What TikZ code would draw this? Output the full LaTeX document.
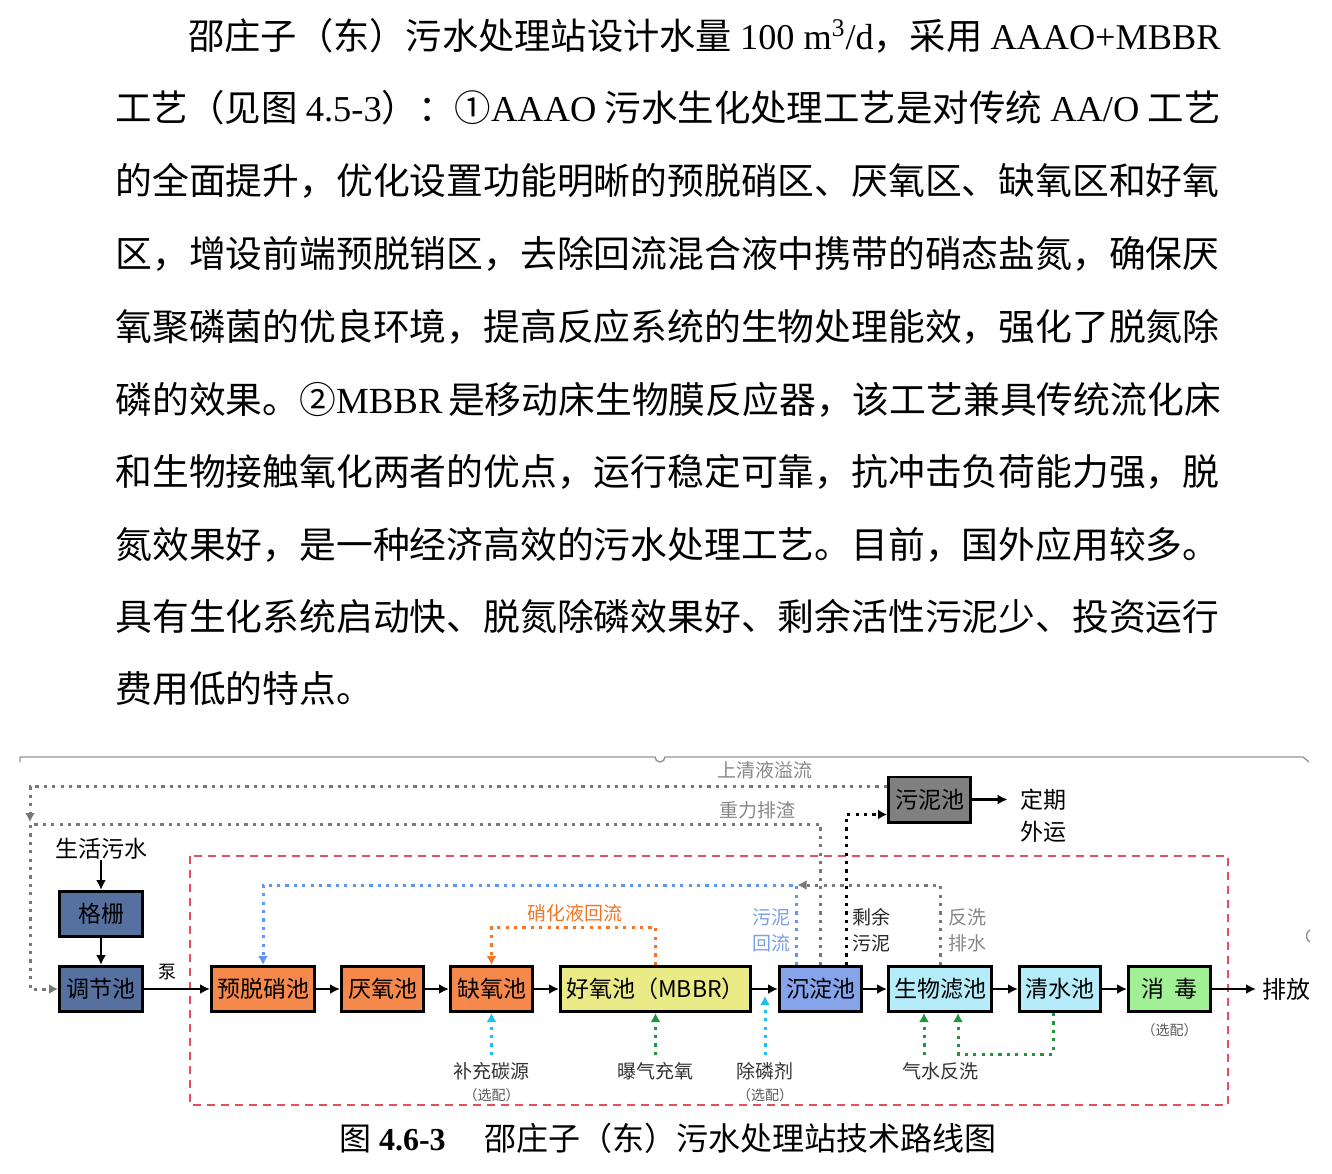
\documentclass[tikz,border=0pt]{standalone}
\usepackage{fontspec}
\usepackage{graphicx}
\setmainfont{Noto Sans CJK SC}
\newfontfamily\lat{Liberation Serif}
\usetikzlibrary{positioning,arrows.meta,calc}

\definecolor{tankblue}{RGB}{86,112,160}
\definecolor{tankorange}{RGB}{244,137,75}
\definecolor{tankyellow}{RGB}{234,234,134}
\definecolor{tankslate}{RGB}{134,164,234}
\definecolor{tankcyan}{RGB}{180,236,250}
\definecolor{tankgreen}{RGB}{162,240,150}
\definecolor{tankgray}{RGB}{128,128,128}
\definecolor{flowred}{RGB}{226,80,96}
\definecolor{flowblue}{RGB}{96,150,240}
\definecolor{floworange}{RGB}{240,118,40}
\definecolor{flowcyan}{RGB}{30,190,240}
\definecolor{flowgreen}{RGB}{30,150,60}
\definecolor{flowgray}{RGB}{120,120,120}
\definecolor{labelgray}{RGB}{135,135,135}
\definecolor{labelblue}{RGB}{120,160,230}
\definecolor{framegray}{RGB}{150,150,150}

\newcommand{\jline}[1]{\makebox[552.5pt][s]{#1}}

\tikzset{
  tank/.style={draw, line width=1.3pt, minimum height=22.7pt, inner sep=1pt,
    font=\fontsize{11.5}{12}\selectfont},
  flow/.style={->, line width=1.25pt},
  dotflow/.style={-{Latex[length=4.5pt,width=5pt]}, line width=1.5pt, dash pattern=on 1.6pt off 2.6pt},
  lbl/.style={inner sep=0pt, align=center, font=\fontsize{9.5}{13}\selectfont},
  opt/.style={inner sep=0pt, text=black!65, font=\fontsize{7}{8}\selectfont},
  bodyline/.style={anchor=base west, inner sep=0pt, font=\fontsize{18.4}{20}\selectfont}
}

\begin{document}
\begin{tikzpicture}[x=0.5pt, y=-0.5pt, >={Latex[length=5pt,width=5pt]}]
\useasboundingbox[fill=white] (0,0) rectangle (1332,1173);

% Text
\node[bodyline] (l1) at (188,49) {\resizebox{516pt}{!}{邵庄子（东）污水处理站设计水量 {\lat 100 m\textsuperscript{3}/d}，采用 {\lat AAAO+MBBR}}};
\node[bodyline] (l2) at (115,121) {\resizebox{552.5pt}{!}{工艺（见图 {\lat 4.5-3}）：①{\lat AAAO} 污水生化处理工艺是对传统 {\lat AA/O} 工艺}};
\node[bodyline] (l3) at (115,194) {\jline{的全面提升，优化设置功能明晰的预脱硝区、厌氧区、缺氧区和好氧}};
\node[bodyline] (l4) at (115,267) {\jline{区，增设前端预脱销区，去除回流混合液中携带的硝态盐氮，确保厌}};
\node[bodyline] (l5) at (115,340) {\jline{氧聚磷菌的优良环境，提高反应系统的生物处理能效，强化了脱氮除}};
\node[bodyline] (l6) at (115,413) {\jline{磷的效果。②{\lat MBBR} 是移动床生物膜反应器，该工艺兼具传统流化床}};
\node[bodyline] (l7) at (115,485) {\jline{和生物接触氧化两者的优点，运行稳定可靠，抗冲击负荷能力强，脱}};
\node[bodyline] (l8) at (115,558) {\jline{氮效果好，是一种经济高效的污水处理工艺。目前，国外应用较多。}};
\node[bodyline] (l9) at (115,630) {\jline{具有生化系统启动快、脱氮除磷效果好、剩余活性污泥少、投资运行}};
\node[bodyline] (l10) at (115,702) {费用低的特点。};

% Frame
\draw[framegray, line width=0.7pt] (20,762) -- (20,757) -- (655,757) arc[start angle=180, end angle=0, radius=5] -- (1303,757) -- (1309,762);
\draw[framegray, line width=0.7pt] (1310,942) arc[start angle=120, end angle=240, radius=7];
\draw[flowred, line width=1.2pt, dash pattern=on 4pt off 3pt] (190,856) rectangle (1228,1105);

% Nodes
\node[tank, fill=tankblue, minimum width=41.7pt] (tiaojie) at (101,989) {调节池};
\node[tank, fill=tankblue, minimum width=41.7pt, above=13.5pt of tiaojie] (gezha) {格栅};
\node[inner sep=0pt, font=\fontsize{11.5}{12}\selectfont, above=15pt of gezha] (source) {生活污水};
\node[tank, fill=tankorange, minimum width=51.7pt, right=33pt of tiaojie] (yutuo) {预脱硝池};
\node[tank, fill=tankorange, minimum width=41.2pt, right=12pt of yutuo] (yanyang) {厌氧池};
\node[tank, fill=tankorange, minimum width=41.2pt, right=12pt of yanyang] (queyang) {缺氧池};
\node[tank, fill=tankyellow, minimum width=95.2pt, right=12.5pt of queyang] (haoyang) {好氧池（MBBR）};
\node[tank, fill=tankslate, minimum width=41.2pt, right=13pt of haoyang] (chendian) {沉淀池};
\node[tank, fill=tankcyan, minimum width=51.7pt, right=12pt of chendian] (lvchi) {生物滤池};
\node[tank, fill=tankcyan, minimum width=40.7pt, right=12.5pt of lvchi] (qingshui) {清水池};
\node[tank, fill=tankgreen, minimum width=41.2pt, right=12.5pt of qingshui] (xiaodu) {消\hspace{0.45em}毒};
\node[inner sep=0pt, font=\fontsize{12}{13}\selectfont, right=25pt of xiaodu] (paifang) {排放};
\node[opt, below=5pt of xiaodu] (xdopt) {（选配）};

\node[tank, fill=tankgray, minimum width=41.2pt] (wuni) at (929.5,799.5) {污泥池};
\node[inner sep=0pt, align=center, font=\fontsize{11.5}{16}\selectfont, anchor=north] (dingqi) at (1043,789) {定期\\外运};

\node[lbl, text=labelgray] (qingye) at (765,770) {上清液溢流};
\node[lbl, text=labelgray] (zhongli) at (757,810) {重力排渣};
\node[lbl, text=floworange] (xiaohua) at (575,913) {硝化液回流};
\node[lbl, text=labelblue] (huiliu) at (771,930) {污泥\\回流};
\node[lbl, text=black!85] (shengyu) at (871,930) {剩余\\污泥};
\node[lbl, text=labelgray] (paishui) at (967,930) {反洗\\排水};

\node[lbl, text=black!80, below=24.5pt of queyang] (tanyuan) {补充碳源};
\node[opt, below=4pt of tanyuan] (tyopt) {（选配）};
\node[lbl, text=black!80, below=24.5pt of haoyang] (baoqi) {曝气充氧};
\coordinate (dose) at ($(haoyang.east)!0.5!(chendian.west)$);
\node[lbl, text=black!80, anchor=north] (chulin) at (dose |- tanyuan.north) {除磷剂};
\node[opt, below=4pt of chulin] (clopt) {（选配）};
\node[lbl, text=black!80, below=24.5pt of lvchi] (fanxi) {气水反洗};

\coordinate (railmid) at (30,824);

% Arrows
\draw[flow] (source) -- (gezha);
\draw[flow] (gezha) -- (tiaojie);
\draw[flow] (tiaojie) -- node[lbl, pos=0.36, above=4pt, font=\fontsize{9}{10}\selectfont] (beng) {泵} (yutuo);
\draw[flow] (yutuo) -- (yanyang);
\draw[flow] (yanyang) -- (queyang);
\draw[flow] (queyang) -- (haoyang);
\draw[flow] (haoyang) -- (chendian);
\draw[flow] (chendian) -- (lvchi);
\draw[flow] (lvchi) -- (qingshui);
\draw[flow] (qingshui) -- (xiaodu);
\draw[flow, shorten >=3pt] (xiaodu) -- (paifang);
\draw[flow, shorten >=6pt] (wuni) -- (wuni -| dingqi.west);

% Dotted returns
\draw[dotflow, flowgray] ($(wuni.west)+(0,-13)$) -| ([yshift=1pt]railmid);
\draw[dotflow, flowgray] (chendian.north) |- (railmid) |- (tiaojie.west);
\draw[dotflow, black] ([xshift=13pt]chendian.north) |- ($(wuni.west)+(0,15)$);
\draw[dotflow, flowblue] ([xshift=-12pt]chendian.north) |- ($(yutuo.north)+(0,-80)$) -- (yutuo.north);
\draw[dotflow, flowgray] (lvchi.north) |- ($(chendian.north)+(-23,-80)$);
\draw[dotflow, floworange] (haoyang.north) |- ($(queyang.north)+(0,-38)$) -- (queyang.north);

% Dosing
\draw[dotflow, flowcyan] ([yshift=3.5pt]tanyuan.north) -- (queyang.south);
\draw[dotflow, flowgreen] ([yshift=3.5pt]baoqi.north) -- (haoyang.south);
\draw[dotflow, flowcyan] ([yshift=3.5pt]chulin.north) -- ([yshift=-3.5pt]dose);
\draw[dotflow, flowgreen] ([xshift=-8pt,yshift=3.5pt]fanxi.north) -- ([xshift=-8pt]lvchi.south);
\draw[dotflow, flowgreen] ([xshift=-3.5pt]qingshui.south) |- ($(lvchi.south)+(18,41)$) -- ([xshift=9pt]lvchi.south);

% Caption
\node[inner sep=0pt, font=\fontsize{16}{17}\selectfont] (caption) at (668,1138) {图 {\lat\bfseries 4.6-3}\hspace{1.2em}邵庄子（东）污水处理站技术路线图};
\end{tikzpicture}
\end{document}
